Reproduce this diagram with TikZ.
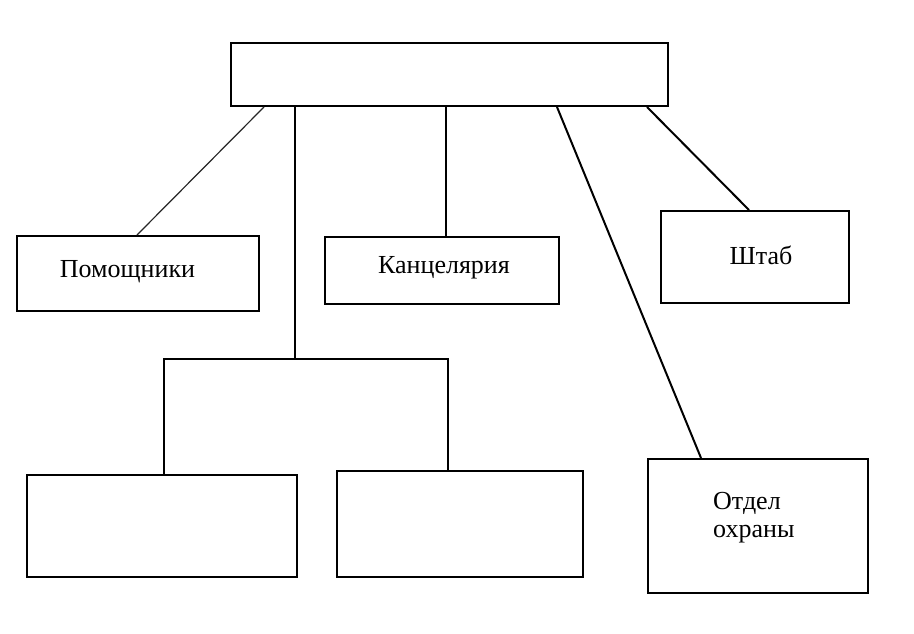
\documentclass[tikz,border=0pt]{standalone}
\usepackage{fontspec}
\setmainfont{Liberation Serif}
\usetikzlibrary{calc}
\begin{document}
\begin{tikzpicture}[x=1pt,y=-1pt,
  box/.style={draw=black,line width=2pt,inner sep=0pt,fill=none},
  lbl/.style={inner sep=0pt,font=\fontsize{26}{28}\selectfont},
  conn/.style={draw=black,line width=2pt},
  thin/.style={draw=black!85,line width=1.2pt}]
\useasboundingbox[fill=white] (0,0) rectangle (914,634);
% boxes
\node[box,minimum width=437pt,minimum height=63pt] (top) at (449.5,74.5) {};
\node[box,minimum width=242pt,minimum height=75pt] (pom) at (138,273.5) {};
\node[box,minimum width=234pt,minimum height=67pt] (kan) at (442,270.5) {};
\node[box,minimum width=188pt,minimum height=92pt] (shtab) at (755,257) {};
\node[box,minimum width=220pt,minimum height=134pt] (otd) at (758,526) {};
\node[box,minimum width=270pt,minimum height=102pt] (bl) at (162,526) {};
\node[box,minimum width=246pt,minimum height=106pt] (br) at (460,524) {};
% labels
\node[lbl,anchor=base] (tpom) at (127.5,277) {Помощники};
\node[lbl,anchor=base] (tkan) at (444,273) {Канцелярия};
\node[lbl,anchor=base] (tshtab) at (761,264) {Штаб};
\node[lbl,anchor=north west,align=left] (totd) at (713,492) {Отдел\\ охраны};
% connectors
\coordinate (pa) at ($(top.south west)+(34,0)$);
\coordinate (pb) at ($(pom.north west)+(121,0)$);
\draw[thin] (pa) -- (pb);
\coordinate (ka) at ($(top.south west)+(216,0)$);
\draw[conn] (ka) -- (ka |- kan.north);
\coordinate (oa) at ($(top.south west)+(327,0)$);
\coordinate (ob) at ($(otd.north west)+(54,0)$);
\draw[conn] (oa) -- (ob);
\coordinate (sa) at ($(top.south west)+(417,0)$);
\coordinate (sb) at ($(shtab.north west)+(89,0)$);
\draw[conn] (sa) -- (sb);
% bracket
\coordinate (va) at ($(top.south west)+(65,0)$);
\coordinate (vb) at ($(top.south west)+(65,252)$);
\draw[conn] (va) -- (vb);
\coordinate (bla) at ($(bl.north west)+(138,0)$);
\coordinate (bra) at ($(br.north west)+(112,0)$);
\draw[conn] (bla) -- (bla |- vb) -- (bra |- vb) -- (bra);
\end{tikzpicture}
\end{document}
